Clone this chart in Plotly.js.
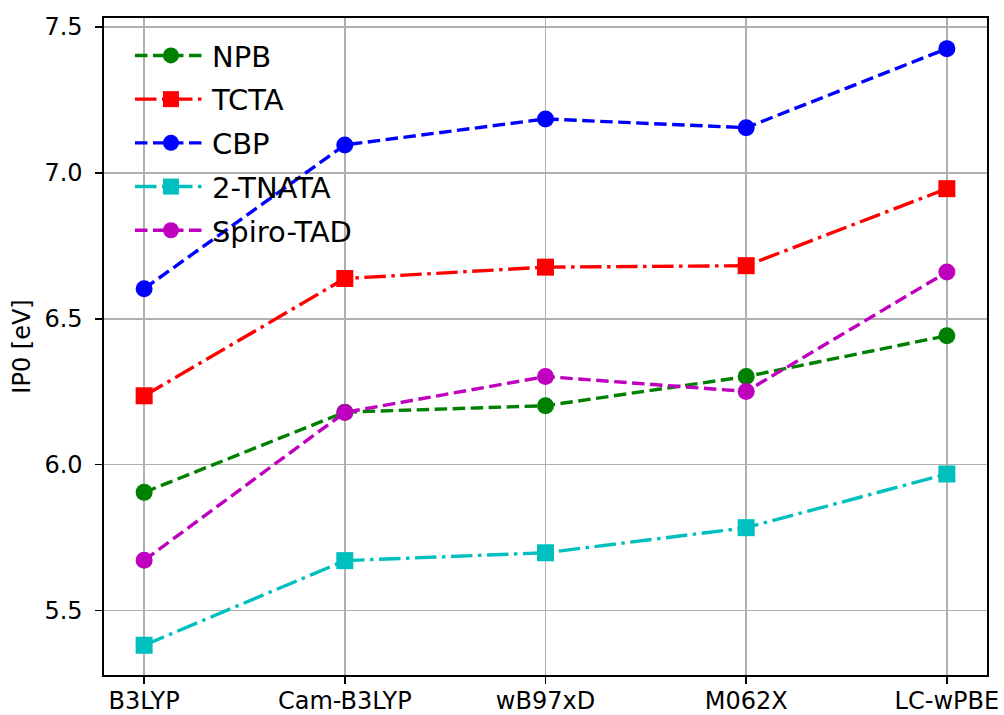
<!DOCTYPE html>
<html>
<head>
<meta charset="utf-8">
<script src="https://cdn.plot.ly/plotly-3.0.1.min.js"></script>
<style>
  html, body { margin: 0; padding: 0; background: #ffffff; }
  #chart { width: 1004px; height: 715px; }
</style>
</head>
<body>
<div id="chart"></div>
<script>
// Functionals (x categories)
const functionals = ["B3LYP", "Cam-B3LYP", "wB97xD", "M062X", "LC-wPBE"];

// IP0 values [eV]
const npb     = [5.905, 6.180, 6.202, 6.302, 6.442];
const tcta    = [6.236, 6.638, 6.677, 6.682, 6.946];
const cbp     = [6.603, 7.096, 7.185, 7.155, 7.426];
const tnata   = [5.381, 5.671, 5.698, 5.784, 5.968];
const spiro   = [5.672, 6.179, 6.302, 6.251, 6.660];

const seriesNames = ["NPB", "TCTA", "CBP", "2-TNATA", "Spiro-TAD"];

const yTickVals = [5.5, 6.0, 6.5, 7.0, 7.5];
const yTickText = ["5.5", "6.0", "6.5", "7.0", "7.5"];

const idx = functionals.map((_, i) => i);

const LW = 3.4;
const DASH = "12.5px,5.5px";
const DASHDOT = "21.5px,5.5px,3.5px,5.5px";
const MS = 17;

function trace(name, y, color, symbol, dash, group) {
  return {
    type: "scatter",
    mode: "lines+markers",
    name: name,
    x: idx,
    y: y,
    legendgroup: group,
    line: { color: color, width: LW, dash: dash },
    marker: { color: color, size: MS, symbol: symbol, line: { width: 0 } },
    cliponaxis: false
  };
}

const data = [
  trace(seriesNames[0], npb,   "#008000", "circle", DASH,    "g1"),
  trace(seriesNames[1], tcta,  "#ff0000", "square", DASHDOT, "g2"),
  trace(seriesNames[2], cbp,   "#0000ff", "circle", DASH,    "g3"),
  trace(seriesNames[3], tnata, "#00bfbf", "square", DASHDOT, "g4"),
  trace(seriesNames[4], spiro, "#bf00bf", "circle", DASH,    "g5")
];

const FONT = "DejaVu Sans, Verdana, sans-serif";

const layout = {
  width: 1004,
  height: 715,
  paper_bgcolor: "#ffffff",
  plot_bgcolor: "#ffffff",
  margin: { l: 104, r: 17, t: 18, b: 40, pad: 0 },
  font: { family: FONT, size: 24, color: "#000000" },
  showlegend: true,
  legend: {
    x: 0.0294, xanchor: "left",
    y: 0.9816, yanchor: "top",
    bgcolor: "rgba(255,255,255,0)",
    borderwidth: 0,
    font: { family: FONT, size: 29, color: "#000000" },
    tracegroupgap: 3,
    itemwidth: 72,
    traceorder: "grouped"
  },
  xaxis: {
    type: "linear",
    range: [-0.2, 4.2],
    tickmode: "array",
    tickvals: idx,
    ticktext: functionals,
    showgrid: true,
    gridcolor: "#b0b0b0",
    gridwidth: 1.6,
    zeroline: false,
    showline: true,
    linecolor: "#000000",
    linewidth: 1.6,
    mirror: true,
    ticks: "outside",
    ticklen: 7,
    tickwidth: 1.6,
    tickcolor: "#000000",
    ticklabelstandoff: -3,
    tickfont: { family: FONT, size: 24, color: "#000000" }
  },
  yaxis: {
    range: [5.279, 7.531],
    tickmode: "array",
    tickvals: yTickVals,
    ticktext: yTickText,
    showgrid: true,
    gridcolor: "#b0b0b0",
    gridwidth: 1.6,
    zeroline: false,
    showline: true,
    linecolor: "#000000",
    linewidth: 1.6,
    mirror: true,
    ticks: "outside",
    ticklen: 7,
    tickwidth: 1.6,
    tickcolor: "#000000",
    ticklabelstandoff: 8,
    tickfont: { family: FONT, size: 24, color: "#000000" },
    title: { text: "IP0 [eV]", font: { family: FONT, size: 24, color: "#000000" }, standoff: 7 }
  }
};

Plotly.newPlot("chart", data, layout, { displayModeBar: false, staticPlot: true });
</script>
</body>
</html>
